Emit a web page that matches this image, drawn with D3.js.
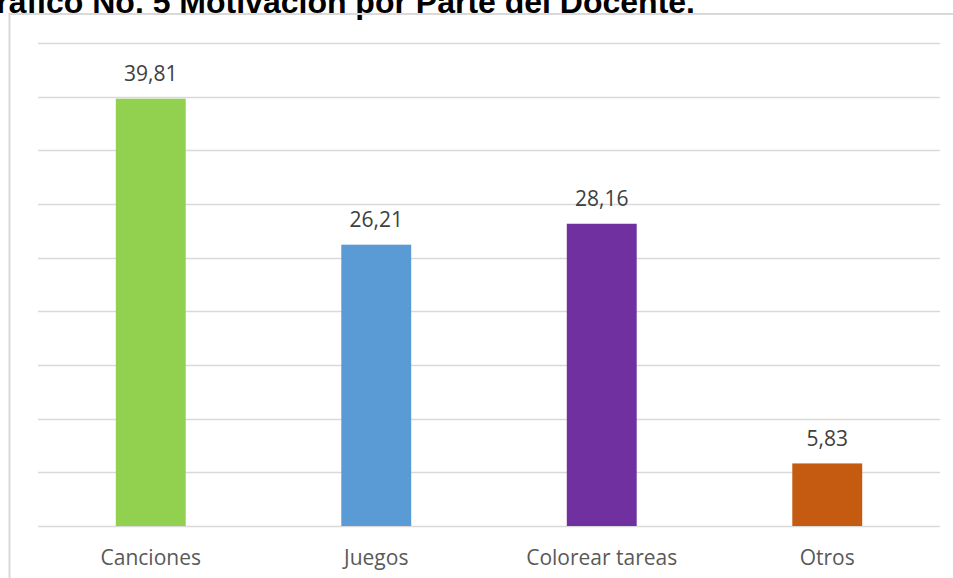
<!DOCTYPE html>
<html><head><meta charset="utf-8">
<script src="https://cdn.jsdelivr.net/npm/d3@7"></script>
<style>body{margin:0;background:#fff}svg{display:block}</style>
</head><body>
<svg id="c" width="953" height="578"></svg>
<script>
const categories = ["Canciones", "Juegos", "Colorear tareas", "Otros"];
const values = [39.81, 26.21, 28.16, 5.83];
const colors = ["#92d050", "#5b9bd5", "#7030a0", "#c55a11"];
const yTicks = [0, 5, 10, 15, 20, 25, 30, 35, 40, 45];
const title = "Gráfico No. 5 Motivación por Parte del Docente.";

(function () {
const svg = d3.select("#c");
const mLeft = 38, mRight = 940, mTop = 43, mBottom = 526;

const x = d3.scaleBand().domain(categories).range([mLeft, mRight]).paddingInner(0.69).paddingOuter(0.345);
const y = d3.scaleLinear().domain([0, 45]).range([mBottom, mTop]);

svg.append("g").selectAll("line").data(yTicks).join("line")
  .attr("x1", mLeft).attr("x2", mRight)
  .attr("y1", d => Math.round(y(d)) + 0.5).attr("y2", d => Math.round(y(d)) + 0.5)
  .attr("stroke", "#d9d9d9").attr("stroke-width", 1.5);

svg.append("g").selectAll("rect").data(values).join("rect")
  .attr("x", (d, i) => x(categories[i]))
  .attr("width", x.bandwidth())
  .attr("y", d => y(d))
  .attr("height", d => y(0) - y(d))
  .attr("fill", (d, i) => colors[i]);

svg.append("g").selectAll("text").data(values).join("text")
  .attr("x", (d, i) => x(categories[i]) + x.bandwidth() / 2)
  .attr("y", d => y(d) - 17.5)
  .attr("text-anchor", "middle")
  .attr("font-family", "'Open Sans', sans-serif")
  .attr("font-size", 21).attr("fill", "#404040")
  .text(d => d.toFixed(2).replace(".", ","));

svg.append("g").selectAll("text").data(categories).join("text")
  .attr("x", d => x(d) + x.bandwidth() / 2)
  .attr("y", 565)
  .attr("text-anchor", "middle")
  .attr("font-family", "'Open Sans', sans-serif")
  .attr("font-size", 21).attr("fill", "#595959")
  .text(d => d);

svg.append("text").attr("x", 695).attr("y", 13)
  .attr("text-anchor", "end")
  .attr("font-family", "'Liberation Sans', Arial, sans-serif")
  .attr("font-weight", "bold").attr("font-size", 32).attr("fill", "#000")
  .text(title);

// frame
svg.append("path").attr("d", `M9.5,578 V14 H953`).attr("fill", "none")
  .attr("stroke", "#d9d9d9").attr("stroke-width", 2);
})();
</script>
</body></html>
